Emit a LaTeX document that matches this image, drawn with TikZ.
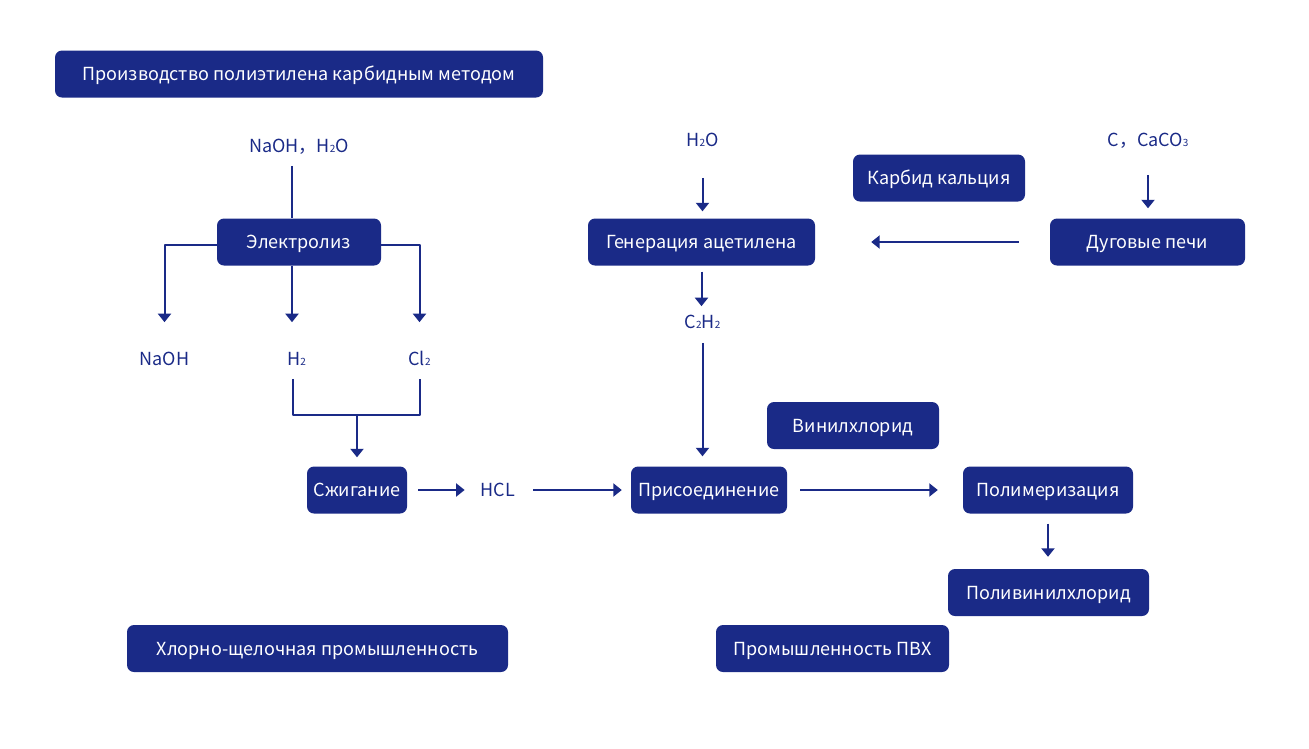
\documentclass[tikz,border=0pt]{standalone}
\usepackage{fontspec}
\setmainfont{Noto Sans CJK SC}
\usetikzlibrary{arrows.meta}
\definecolor{pvcblue}{RGB}{26,42,135}
\newcommand{\ix}[1]{{\fontsize{10}{10}\selectfont #1}}

\begin{document}
\begin{tikzpicture}[x=1pt, y=-1pt, font=\fontsize{18}{22}\selectfont, line join=round,
  >={Triangle[width=13pt,length=8.5pt]},
  box/.style={fill=pvcblue, text=white, rounded corners=7pt, minimum height=47, inner sep=0,
    text height=13.2pt, text depth=0pt},
  chem/.style={text=pvcblue, inner sep=0, text height=13.2pt, text depth=0pt},
  link/.style={draw=pvcblue, line width=2pt},
  flow/.style={link, ->}]
\useasboundingbox (0,0) rectangle (1309,748);

% boxes
\node[box, minimum width=488] (title) at (299,74) {Производство полиэтилена карбидным методом};
\node[box, minimum width=164] (elec) at (299,242) {Электролиз};
\node[box, minimum width=227] (gen) at (701.5,242) {Генерация ацетилена};
\node[box, minimum width=172] (carb) at (939,178) {Карбид кальция};
\node[box, minimum width=195] (arc) at (1147.5,242) {Дуговые печи};
\node[box, minimum width=100] (burn) at (357,490) {Сжигание};
\node[box, minimum width=156] (add) at (709,490) {Присоединение};
\node[box, minimum width=172] (vc) at (853,425.5) {Винилхлорид};
\node[box, minimum width=170] (poly) at (1048,490) {Полимеризация};
\node[box, minimum width=201] (pvc) at (1048.5,592.5) {Поливинилхлорид};
\node[box, minimum width=233] (pvcind) at (832.5,648.5) {Промышленность ПВХ};
\node[box, minimum width=381] (chlor) at (317.5,648.5) {Хлорно-щелочная промышленность};

% substances
\node[chem] (feed) at (299,146) {NaOH，H\ix{2}O};
\node[chem] (naoh) at (164.5,359) {NaOH};
\node[chem] (h2) at (296.5,359) {H\ix{2}};
\node[chem] (cl2) at (419.5,359) {Cl\ix{2}};
\node[chem] (hcl) at (498,490) {HCL};
\node[chem] (water) at (702.5,140) {H\ix{2}O};
\node[chem] (c2h2) at (702.5,322) {C\ix{2}H\ix{2}};
\node[chem] (cac) at (1148,140) {C，CaCO\ix{3}};
\coordinate (join) at (357,415);

% chlor-alkali branch
\draw[link, shorten <=13pt] ([xshift=-7pt]feed.south) -- ([xshift=-7pt]elec.north);
\draw[flow, shorten >=30pt] ([yshift=-3pt]elec.west) -| (naoh.north);
\draw[flow, shorten >=30pt] ([xshift=-7pt]elec.south) -- ([xshift=-7pt]elec.south |- h2.north);
\draw[flow, shorten >=30pt] ([yshift=-3pt]elec.east) -| (cl2.north);
\draw[link, shorten <=13pt, shorten >=13pt] ([xshift=-4pt]h2.south) |- (join) -| (cl2.south);
\draw[flow, shorten >=9pt] (join) -- (burn.north);
\draw[flow, shorten <=11pt, shorten >=16pt] (burn) -- (hcl);
\draw[flow, shorten <=18pt, shorten >=9pt] (hcl) -- (add);

% acetylene branch
\draw[flow, shorten <=31pt, shorten >=7pt] (water.south) -- (water.south |- gen.north);
\draw[flow, shorten <=6pt, shorten >=9pt] (gen.south) -- (gen.south |- c2h2.north);
\draw[flow, shorten <=14pt, shorten >=10pt] (c2h2.south) -- (c2h2.south |- add.north);
\draw[flow, shorten <=28pt, shorten >=10pt] (cac.south) -- (cac.south |- arc.north);
\draw[flow, shorten <=31pt, shorten >=56pt] (arc.west) -- (gen.east);

% PVC
\draw[flow, shorten <=13pt, shorten >=25pt] (add) -- (poly);
\draw[flow, shorten <=10pt, shorten >=12pt] (poly.south) -- (poly.south |- pvc.north);
\end{tikzpicture}
\end{document}
